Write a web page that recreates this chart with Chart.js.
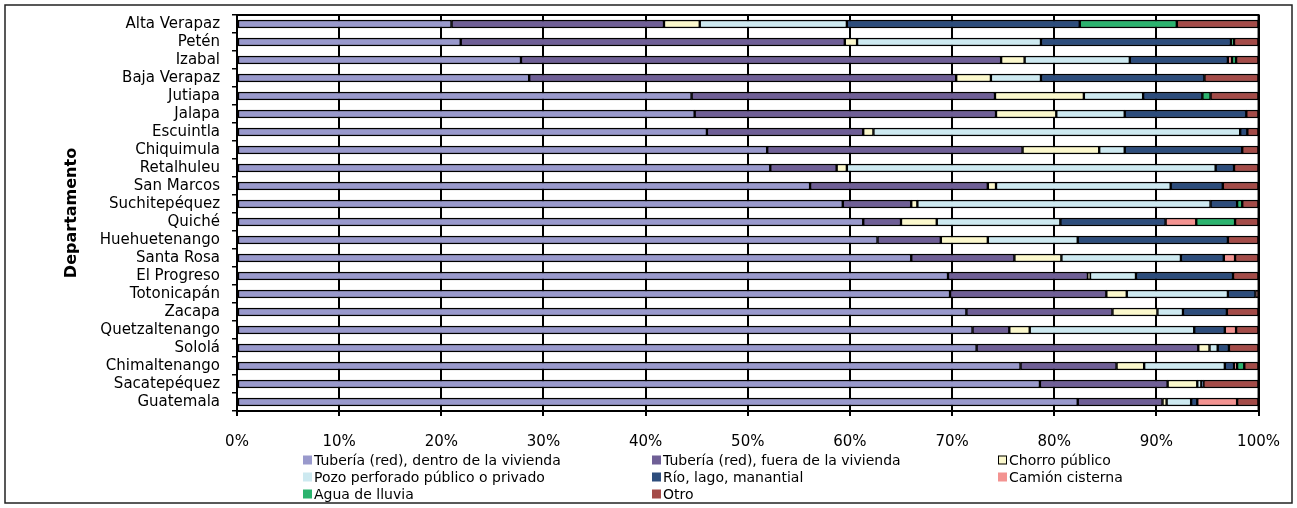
<!DOCTYPE html>
<html>
<head>
<meta charset="utf-8">
<script src="https://cdn.jsdelivr.net/npm/chart.js@4"></script>
<style>
  html, body { margin: 0; padding: 0; background: #fff; }
  #wrap { width: 1297px; height: 508px; }
</style>
</head>
<body>
<div id="wrap"><canvas id="waterChart" width="1297" height="508"></canvas></div>
<script>
// Departamentos, ordered top to bottom as in the picture
const departamentos = ['Alta Verapaz', 'Petén', 'Izabal', 'Baja Verapaz', 'Jutiapa', 'Jalapa', 'Escuintla',
  'Chiquimula', 'Retalhuleu', 'San Marcos', 'Suchitepéquez', 'Quiché', 'Huehuetenango', 'Santa Rosa',
  'El Progreso', 'Totonicapán', 'Zacapa', 'Quetzaltenango', 'Sololá', 'Chimaltenango', 'Sacatepéquez', 'Guatemala'];

// % of households by water source
const dentro = [21.0, 21.9, 27.8, 28.6, 44.5, 44.8, 46.0, 51.9, 52.2, 56.1, 59.3, 61.3, 62.7, 66.0, 69.6, 69.8, 71.4, 72.0, 72.4, 76.7, 78.6, 82.3];
const fuera  = [20.8, 37.6, 47.0, 41.8, 29.7, 29.5, 15.3, 25.0, 6.5, 17.4, 6.7, 3.7, 6.2, 10.1, 13.7, 15.3, 14.3, 3.6, 21.7, 9.4, 12.5, 8.3];
const chorro = [3.5, 1.2, 2.3, 3.4, 8.7, 5.9, 1.0, 7.5, 1.0, 0.8, 0.6, 3.5, 4.6, 4.6, 0.2, 2.0, 4.4, 2.0, 1.1, 2.7, 2.9, 0.4];
const pozo   = [14.4, 18.0, 10.3, 4.9, 5.8, 6.7, 35.9, 2.5, 36.1, 17.1, 28.7, 12.1, 8.8, 11.7, 4.5, 9.9, 2.5, 16.1, 0.8, 7.9, 0.4, 2.4];
const rio    = [22.8, 18.6, 9.6, 16.0, 5.8, 11.9, 0.7, 11.5, 1.8, 5.1, 2.6, 10.3, 14.7, 4.2, 9.5, 2.7, 4.3, 3.0, 1.1, 0.9, 0.2, 0.6];
const camion = [0, 0, 0.4, 0, 0, 0, 0, 0, 0, 0, 0, 3.0, 0, 1.1, 0, 0, 0, 1.1, 0, 0.3, 0, 3.9];
const lluvia = [9.5, 0.3, 0.4, 0, 0.8, 0, 0, 0, 0, 0, 0.5, 3.8, 0, 0, 0, 0, 0, 0, 0, 0.7, 0, 0];
const otro   = [8.0, 2.4, 2.2, 5.3, 4.7, 1.2, 1.1, 1.6, 2.4, 3.5, 1.6, 2.3, 3.0, 2.3, 2.5, 0.3, 3.1, 2.2, 2.9, 1.4, 5.4, 2.1];

const xTicks = [0, 10, 20, 30, 40, 50, 60, 70, 80, 90, 100];

const FONT = "'DejaVu Sans', Verdana, sans-serif";

function ds(label, data, color) {
  return { label, data, backgroundColor: color, borderColor: '#000', borderWidth: 1.5,
           borderSkipped: false, barThickness: 8 };
}

// legend in 3 fixed columns, like the original
const gridLegend = {
  id: 'gridLegend',
  afterDraw(chart) {
    const ctx = chart.ctx;
    const cols = [303, 652, 998];
    const rows = [460, 477, 494];
    ctx.save();
    ctx.font = '14px ' + FONT;
    ctx.textBaseline = 'middle';
    chart.data.datasets.forEach((d, i) => {
      const x = cols[i % 3], y = rows[Math.floor(i / 3)];
      ctx.fillStyle = d.backgroundColor;
      ctx.fillRect(x, y - 4.5, 9, 9);
      if (d.label === 'Chorro público') {
        ctx.strokeStyle = '#000'; ctx.lineWidth = 1;
        ctx.strokeRect(x + 0.5, y - 4, 8, 8);
      }
      ctx.fillStyle = '#000';
      ctx.fillText(d.label, x + 11, y + 1);
    });
    ctx.restore();
  }
};

// plot frame + outer frame
const frames = {
  id: 'frames',
  afterDraw(chart) {
    const { ctx, chartArea: a } = chart;
    ctx.save();
    ctx.strokeStyle = '#000';
    ctx.lineWidth = 2;
    ctx.strokeRect(a.left, a.top, a.right - a.left, a.bottom - a.top);
    ctx.lineWidth = 1.5;
    ctx.strokeStyle = '#222';
    ctx.strokeRect(5, 5, 1287, 498);
    ctx.restore();
  }
};

new Chart(document.getElementById('waterChart'), {
  type: 'bar',
  data: {
    labels: departamentos,
    datasets: [
      ds('Tubería (red), dentro de la vivienda', dentro, '#9999cc'),
      ds('Tubería (red), fuera de la vivienda', fuera, '#6f5f96'),
      ds('Chorro público', chorro, '#fbf8cc'),
      ds('Pozo perforado público o privado', pozo, '#cde9f0'),
      ds('Río, lago, manantial', rio, '#2d4d7c'),
      ds('Camión cisterna', camion, '#f39391'),
      ds('Agua de lluvia', lluvia, '#2bb36e'),
      ds('Otro', otro, '#a44b48')
    ]
  },
  options: {
    indexAxis: 'y',
    responsive: false,
    animation: false,
    layout: { padding: { left: 58, top: 15, right: 37, bottom: 57 } },
    plugins: { legend: { display: false }, tooltip: { enabled: false } },
    scales: {
      x: {
        stacked: true, min: 0, max: 100,
        afterBuildTicks: s => { s.ticks = xTicks.map(v => ({ value: v })); },
        afterFit: s => { s.height = 40; },
        ticks: { callback: v => v + '%', color: '#000', padding: 17, maxRotation: 0,
                 font: { family: FONT, size: 15 } },
        grid: { color: '#000', lineWidth: 2, tickLength: 5 },
        border: { color: '#000', width: 2 }
      },
      y: {
        stacked: true,
        afterFit: s => { s.width = 179; s.paddingTop = 0; s.paddingBottom = 0; },
        ticks: { color: '#000', padding: 12, autoSkip: false, font: { family: FONT, size: 15 } },
        grid: { drawOnChartArea: false, color: '#000', lineWidth: 1.5, tickLength: 5, offset: true },
        border: { color: '#000', width: 2 },
        title: { display: true, text: 'Departamento', color: '#000', padding: { top: 4, bottom: 0 },
                 font: { family: FONT, size: 16, weight: 'bold' } }
      }
    }
  },
  plugins: [gridLegend, frames]
});
</script>
</body>
</html>
